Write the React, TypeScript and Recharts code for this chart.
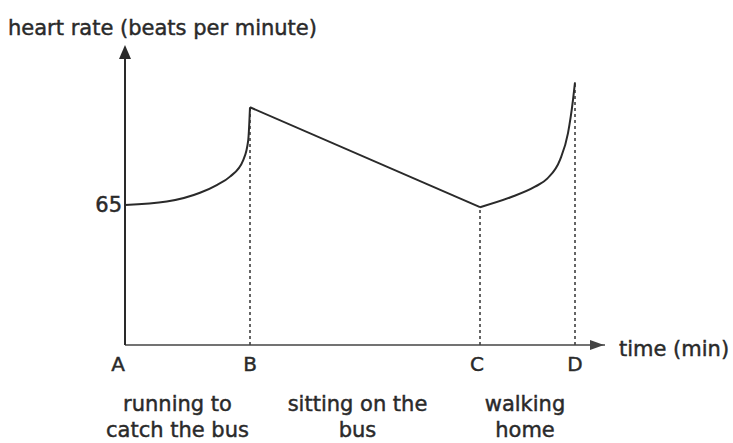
import React from 'react';
import { LineChart, Line, XAxis, YAxis, ReferenceLine, ReferenceDot } from 'recharts';

// time (min) of the marked moments A, B, C, D
const markTimes = [0, 5, 14.2, 18];
const markLabels = ['A', 'B', 'C', 'D'];

// heart rate while running to catch the bus (A -> B)
const runningTime = [0, 1.67, 3.0, 3.67, 4.2, 4.73, 4.93, 5];
const runningRate = [65, 66.6, 70.7, 74.3, 78.2, 85.9, 95.2, 110.4];

// sitting on the bus (B -> C)
const busTime = [5, 14.2];
const busRate = [110.4, 64];

// walking home (C -> D)
const walkingTime = [14.2, 15.4, 16.4, 16.9, 17.4, 17.72, 17.92, 18];
const walkingRate = [64, 68.5, 73.5, 77.4, 86, 98.4, 113.8, 122];

const phaseTimes = [2.1, 9.3, 16.0];
const phaseLabels = [
  ['running to', 'catch the bus'],
  ['sitting on the', 'bus'],
  ['walking', 'home'],
];

const rateTicks = [65];
const timeMax = 19.2;
const rateMax = 137;

const toRows = (t: number[], hr: number[]) => t.map((v, i) => ({ t: v, hr: hr[i] }));

const running = toRows(runningTime, runningRate);
const bus = toRows(busTime, busRate);
const walking = toRows(walkingTime, walkingRate);

// peak / low value at each mark, for the dotted drop lines
const markRates = [65, busRate[0], busRate[1], walkingRate[walkingRate.length - 1]];

const ink = '#2a2a2a';
// scanned print looks a little heavier than the regular face
const heavy = { stroke: ink, strokeWidth: 0.45 };

const PhaseTick = (props: any) => {
  const { x, y, payload } = props;
  const idx = phaseTimes.indexOf(payload.value);
  const lines = phaseLabels[idx] || [];
  return (
    <text x={x} y={y} textAnchor="middle" fill={ink} fontSize={21} {...heavy}>
      <tspan x={x} dy={28}>{lines[0]}</tspan>
      <tspan x={x} dy={26}>{lines[1]}</tspan>
    </text>
  );
};

const MarkTick = (props: any) => {
  const { x, y, payload } = props;
  const idx = markTimes.indexOf(payload.value);
  const nudge = idx === 0 ? -7 : idx === 2 ? -3 : 0;
  return (
    <text x={x + nudge} y={y} dy="0.71em" textAnchor="middle" fill={ink} fontSize={20} {...heavy}>
      {markLabels[idx]}
    </text>
  );
};

const ArrowUp = (props: any) => {
  const { cx, cy } = props;
  return <polygon points={`${cx},${cy - 5} ${cx - 6},${cy + 9} ${cx + 6},${cy + 9}`} fill={ink} />;
};

const ArrowRight = (props: any) => {
  const { cx, cy } = props;
  return <polygon points={`${cx - 1},${cy} ${cx - 15},${cy - 5} ${cx - 15},${cy + 5}`} fill="#444" />;
};

export default function App() {
  return (
    <div style={{ width: 733, height: 443, background: '#fff', fontFamily: '"DejaVu Sans", sans-serif' }}>
      <style>{`body{margin:0}`}</style>
      <LineChart width={733} height={443} margin={{ top: 50, right: 128, left: 0, bottom: 0 }}>
        <XAxis
          dataKey="t"
          type="number"
          domain={[0, timeMax]}
          ticks={markTimes}
          interval={0}
          height={30}
          tickLine={false}
          tickMargin={6}
          axisLine={{ stroke: '#444', strokeWidth: 1.5 }}
          tick={<MarkTick />}
          label={{
            content: (p: any) => {
              const vb = p.viewBox;
              return (
                <text x={vb.x + vb.width + 14} y={vb.y + 11} fill={ink} fontSize={21} {...heavy}>
                  time (min)
                </text>
              );
            },
          }}
        />
        <XAxis
          xAxisId="phase"
          dataKey="t"
          type="number"
          domain={[0, timeMax]}
          allowDataOverflow
          ticks={phaseTimes}
          interval={0}
          height={68}
          axisLine={false}
          tickLine={false}
          tick={<PhaseTick />}
        />
        <YAxis
          dataKey="hr"
          type="number"
          domain={[0, rateMax]}
          ticks={rateTicks}
          width={125}
          tickLine={false}
          tickSize={3}
          tickMargin={0}
          tick={{ fill: ink, fontSize: 21, ...heavy }}
          axisLine={{ stroke: ink, strokeWidth: 2 }}
          label={{
            content: (p: any) => {
              const vb = p.viewBox;
              return (
                <text x={vb.x + 8} y={vb.y - 15} fill={ink} fontSize={21} {...heavy}>
                  heart rate (beats per minute)
                </text>
              );
            },
          }}
        />
        {markTimes.slice(1).map((t, i) => (
          <ReferenceLine
            key={t}
            segment={[
              { x: t, y: 0 },
              { x: t, y: markRates[i + 1] },
            ]}
            stroke="#333"
            strokeWidth={1.5}
            strokeDasharray="3 3"
          />
        ))}
        <Line data={running} dataKey="hr" type="monotone" stroke={ink} strokeWidth={2} dot={false} activeDot={false} isAnimationActive={false} />
        <Line data={bus} dataKey="hr" type="linear" stroke={ink} strokeWidth={2} dot={false} activeDot={false} isAnimationActive={false} />
        <Line data={walking} dataKey="hr" type="monotone" stroke={ink} strokeWidth={2} dot={false} activeDot={false} isAnimationActive={false} />
        <ReferenceDot x={0} y={rateMax} r={0} shape={<ArrowUp />} ifOverflow="visible" />
        <ReferenceDot x={timeMax} y={0} r={0} shape={<ArrowRight />} ifOverflow="visible" />
      </LineChart>
    </div>
  );
}
